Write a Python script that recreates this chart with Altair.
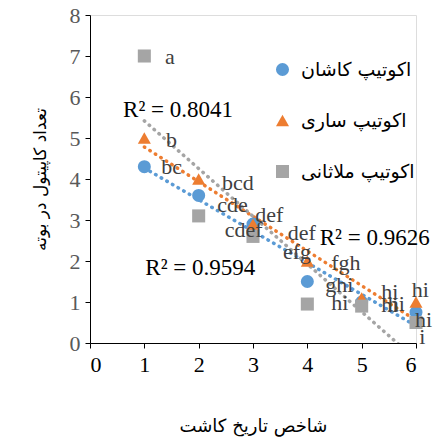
import altair as alt
import pandas as pd

# ---- data ----
x_vals = [1, 2, 3, 4, 5, 6]
series_names = ["اکوتیپ کاشان", "اکوتیپ ساری", "اکوتیپ ملاثانی"]
kashan = [4.3, 3.6, 2.9, 1.5, 1.0, 0.75]
sari = [5.0, 4.0, 2.9, 2.0, 1.1, 1.0]
maltani = [7.0, 3.1, 2.6, 0.95, 0.9, 0.5]

# group letters (label text, anchor x, anchor y in data units)
label_text = ["a", "b", "bc", "bcd", "cde", "cdef", "def", "def", "efg", "fgh",
              "ghi", "hi", "hi", "hi", "hi", "hi", "hi", "i"]
label_x = [1.38, 1.40, 1.31, 2.43, 2.34, 2.48, 3.04, 3.64, 3.55, 4.44,
           4.33, 4.44, 5.36, 5.36, 5.48, 5.92, 5.98, 6.06]
label_y = [6.98, 4.95, 4.29, 3.90, 3.37, 2.76, 3.12, 2.68, 2.22, 1.95,
           1.41, 0.98, 1.24, 0.93, 0.95, 1.29, 0.56, 0.15]

r2_text = ["R² = 0.8041", "R² = 0.9626", "R² = 0.9594"]
r2_x = [1.62, 5.24, 2.03]
r2_y = [5.68, 2.56, 1.83]

colors = ["#5B9BD5", "#ED7D31", "#A5A5A5"]
shapes = ["circle", "triangle-up", "square"]

rows = []
for name, vals in zip(series_names, [kashan, sari, maltani]):
    for xv, yv in zip(x_vals, vals):
        rows.append({"x": xv, "y": yv, "series": name})
df = pd.DataFrame(rows)
labels_df = pd.DataFrame({"t": label_text, "x": label_x, "y": label_y})
r2_df = pd.DataFrame({"t": r2_text, "x": r2_x, "y": r2_y})

xs = alt.Scale(domain=[0, 6], nice=False)
ys = alt.Scale(domain=[0, 8], nice=False)
cs = alt.Scale(domain=series_names, range=colors)
ss = alt.Scale(domain=series_names, range=shapes)

x_axis = alt.Axis(values=list(range(0, 7)), format="d", grid=False, domainColor="black",
                  tickColor="black", tickSize=5, labelFont="Liberation Serif",
                  labelFontSize=22, labelColor="black", labelPadding=6,
                  title="شاخص تاریخ کاشت", titleFont="DejaVu Sans",
                  titleFontSize=18, titleFontWeight="normal", titleColor="black",
                  titlePadding=42)
y_axis = alt.Axis(values=list(range(0, 9)), format="d", grid=False, domainColor="black",
                  tickColor="black", tickSize=5, labelFont="Liberation Serif",
                  labelFontSize=22, labelColor="#595959", labelPadding=5,
                  title="تعداد کاپیتول در بوته", titleFont="DejaVu Sans",
                  titleFontSize=17, titleFontWeight="normal", titleColor="black",
                  titlePadding=20)

legend = alt.Legend(orient="none", legendX=183, legendY=45, title=None,
                    symbolSize=170, labelFont="DejaVu Sans", labelFontSize=19,
                    labelFontWeight="normal", labelColor="black", rowPadding=31,
                    labelOffset=9)

base = alt.Chart(df)

trends = []
for name, col in zip(series_names, colors):
    trends.append(
        base.transform_filter(alt.datum.series == name)
        .transform_regression("x", "y", extent=[1, 6])
        .mark_line(strokeDash=[0.5, 6], strokeCap="round", strokeWidth=3.5,
                   clip=True, color=col)
        .encode(
            x=alt.X("x:Q", scale=xs, axis=x_axis),
            y=alt.Y("y:Q", scale=ys, axis=y_axis),
        )
    )

points = base.mark_point(filled=True, opacity=1, size=170).encode(
    x=alt.X("x:Q", scale=xs),
    y=alt.Y("y:Q", scale=ys),
    color=alt.Color("series:N", scale=cs, title=None, legend=legend),
    shape=alt.Shape("series:N", scale=ss, title=None, legend=legend),
)

letters = alt.Chart(labels_df).mark_text(
    align="left", baseline="middle", font="Liberation Serif", fontSize=22,
    color="#404040"
).encode(x=alt.X("x:Q", scale=xs), y=alt.Y("y:Q", scale=ys), text="t:N")

r2 = alt.Chart(r2_df).mark_text(
    align="center", baseline="middle", font="Liberation Serif", fontSize=23,
    color="black"
).encode(x=alt.X("x:Q", scale=xs), y=alt.Y("y:Q", scale=ys), text="t:N")

chart = alt.layer(*trends, points, letters, r2).properties(
    width=326, height=328,
    autosize=alt.AutoSizeParams(type="none"),
    padding={"left": 90, "top": 15, "right": 21, "bottom": 97},
).configure_view(stroke=None).configure(background="white")

chart.save("out.html", embed_options={"renderer": "svg", "actions": False})
